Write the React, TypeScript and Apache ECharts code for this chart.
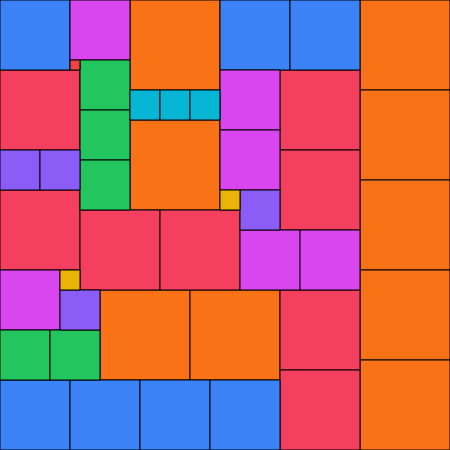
import React, { useEffect, useRef } from "react";
import * as echarts from "echarts";

// Partridge packing: n squares of side n (n = 1..9) tile a 45 x 45 square.
const squareX = [13, 36, 36, 36, 36, 36, 13, 10, 19, 0, 28, 28, 0, 8, 16, 28, 28, 0, 22, 29, 0, 7, 14, 21, 7, 22, 22, 24, 30, 0, 8, 8, 8, 0, 5, 0, 4, 24, 6, 13, 16, 19, 22, 6, 7];
const squareY = [0, 0, 9, 18, 27, 36, 12, 29, 29, 7, 7, 15, 19, 21, 21, 29, 37, 0, 0, 0, 38, 38, 38, 38, 0, 7, 13, 23, 23, 27, 6, 11, 16, 33, 33, 15, 15, 19, 29, 9, 9, 9, 19, 27, 6];
const squareSize = [9, 9, 9, 9, 9, 9, 9, 9, 9, 8, 8, 8, 8, 8, 8, 8, 8, 7, 7, 7, 7, 7, 7, 7, 6, 6, 6, 6, 6, 6, 5, 5, 5, 5, 5, 4, 4, 4, 4, 3, 3, 3, 2, 2, 1];
const sizeColors: Record<number, string> = {
  1: "#ef4444",
  2: "#eab308",
  3: "#06b6d4",
  4: "#8b5cf6",
  5: "#22c55e",
  6: "#d946ef",
  7: "#3b82f6",
  8: "#f43f5e",
  9: "#f97316",
};
const SIDE = 45;

export default function App() {
  const ref = useRef<HTMLDivElement>(null);
  useEffect(() => {
    if (!ref.current) return;
    const chart = echarts.init(ref.current, null, { renderer: "svg" });
    const data = squareX.map((x, i) => [x, squareY[i], squareSize[i]]);
    chart.setOption({
      animation: false,
      grid: { left: 0, right: 0, top: 0, bottom: 0 },
      xAxis: { type: "value", min: 0, max: SIDE, show: false },
      yAxis: { type: "value", min: 0, max: SIDE, inverse: true, show: false },
      series: [
        {
          type: "custom",
          clip: true,
          data,
          renderItem: (params: any, api: any) => {
            const x = api.value(0);
            const y = api.value(1);
            const s = api.value(2);
            const p0 = api.coord([x, y]);
            const p1 = api.coord([x + s, y + s]);
            return {
              type: "rect",
              shape: {
                x: Math.min(p0[0], p1[0]),
                y: Math.min(p0[1], p1[1]),
                width: Math.abs(p1[0] - p0[0]),
                height: Math.abs(p1[1] - p0[1]),
              },
              style: { fill: sizeColors[s], stroke: "#000", lineWidth: 1 },
            };
          },
        },
      ],
    });
    return () => chart.dispose();
  }, []);
  return (
    <div
      ref={ref}
      style={{ position: "fixed", left: 0, top: 0, width: 450, height: 450 }}
    />
  );
}
